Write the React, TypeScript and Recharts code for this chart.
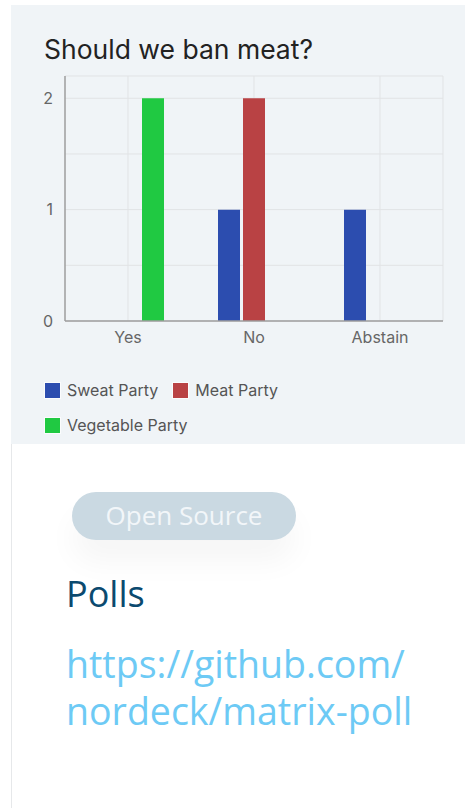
import React from "react"
import {
  BarChart,
  Bar,
  XAxis,
  YAxis,
  CartesianGrid,
  Legend,
} from "recharts"

const categories = ["Yes", "No", "Abstain"]
const sweatParty = [0, 1, 1]
const meatParty = [0, 2, 0]
const vegetableParty = [2, 0, 0]
const yTicks = [0, 0.5, 1, 1.5, 2, 2.2]

const series = [
  { key: "sweat", name: "Sweat Party", fill: "#2c4daf" },
  { key: "meat", name: "Meat Party", fill: "#b94244" },
  { key: "vegetable", name: "Vegetable Party", fill: "#20c942" },
]

const data = categories.map((c, i) => ({
  name: c,
  sweat: sweatParty[i],
  meat: meatParty[i],
  vegetable: vegetableParty[i],
}))

const chartFont = "Inter, 'Noto Sans', sans-serif"

function LegendContent(props: any) {
  // keep the series order, not alphabetical
  const order = series.map((s) => s.name)
  const items = [...(props.payload || [])].sort(
    (a: any, b: any) => order.indexOf(a.value) - order.indexOf(b.value)
  )
  return (
    <div
      style={{
        display: "flex",
        flexWrap: "wrap",
        width: 250,
        columnGap: 15,
        rowGap: 15,
        fontFamily: chartFont,
        fontSize: 16,
        color: "#555",
      }}
    >
      {items.map((it: any) => (
        <div key={it.value} style={{ display: "flex", alignItems: "center", height: 20 }}>
          <span
            style={{
              display: "inline-block",
              width: 15,
              height: 15,
              background: it.color,
              boxShadow: "0 0 0 1px rgba(255,255,255,0.7)",
              marginRight: 7,
            }}
          />
          <span>{it.value}</span>
        </div>
      ))}
    </div>
  )
}

// category centres from the axis scale, plus the right edge of the plot
const verticalLines = (props: any) => {
  const { xAxis, offset } = props
  const s = xAxis && xAxis.scale
  let f: ((v: string) => number) | null = null
  if (typeof s === "function") f = (v) => s(v)
  else if (s && typeof s.map === "function") f = (v) => s.map(v)
  let bw = 0
  if (s && typeof s.bandwidth === "function") bw = s.bandwidth()
  const pts = f ? categories.map((c) => (f as any)(c) + bw / 2).filter((p) => Number.isFinite(p)) : []
  return [...pts, offset.left + offset.width]
}

export default function App() {
  return (
    <div style={{ position: "absolute", left: 0, top: 0, width: 465, height: 808, background: "#fff", overflow: "hidden" }}>
      {/* left edge of the panel */}
      <div style={{ position: "absolute", left: 11, top: 5, width: 1, height: 803, background: "#e6e8ea" }} />

      {/* chart card */}
      <div style={{ position: "absolute", left: 11, top: 5, width: 454, height: 439, background: "#f0f4f7" }}>
        <div
          style={{
            position: "absolute",
            left: 33,
            top: 28,
            fontFamily: chartFont,
            fontSize: 26.5,
            color: "#222",
            whiteSpace: "nowrap",
          }}
        >
          Should we ban meat?
        </div>
        <div style={{ position: "absolute", left: 0, top: 0 }}>
          <BarChart
            width={454}
            height={439}
            data={data}
            margin={{ top: 71, right: 22, left: 0, bottom: 93 }}
            barSize={22}
            barGap={3}
          >
            <CartesianGrid
              stroke="#e1e3e5"
              strokeWidth={1}
              verticalCoordinatesGenerator={verticalLines}
            />
            <XAxis
              dataKey="name"
              tickLine={false}
              tickSize={6}
              tickMargin={5}
              height={30}
              axisLine={{ stroke: "#9e9e9e", strokeWidth: 1.5 }}
              tick={{ fill: "#666", fontSize: 16, fontFamily: chartFont }}
            />
            <YAxis
              width={54}
              domain={[0, 2.2]}
              ticks={yTicks}
              interval={0}
              tickLine={false}
              tickSize={6}
              tickMargin={6}
              axisLine={{ stroke: "#9e9e9e", strokeWidth: 1.5 }}
              tick={{ fill: "#666", fontSize: 16, fontFamily: chartFont }}
              tickFormatter={(v: number) => (Number.isInteger(v) ? String(v) : "")}
            />
            {series.map((s) => (
              <Bar
                key={s.key}
                dataKey={s.key}
                name={s.name}
                fill={s.fill}
                isAnimationActive={false}
              />
            ))}
            <Legend
              verticalAlign="middle"
              layout="horizontal"
              content={<LegendContent />}
              wrapperStyle={{ left: 34, top: 375, width: 260, height: 60 }}
            />
          </BarChart>
        </div>
      </div>

      {/* project info */}
      <div
        style={{
          position: "absolute",
          left: 72,
          top: 492,
          width: 224,
          height: 48,
          borderRadius: 24,
          background: "#cad9e2",
          color: "#f2f6f9",
          fontFamily: "'Open Sans', sans-serif",
          fontSize: 26,
          lineHeight: "47px",
          textAlign: "center",
          boxShadow: "0 22px 30px rgba(0,0,0,0.04)",
        }}
      >
        Open Source
      </div>
      <div
        style={{
          position: "absolute",
          left: 66,
          top: 570,
          fontFamily: "'Open Sans', sans-serif",
          fontSize: 36,
          lineHeight: "48px",
          color: "#0b4a6f",
        }}
      >
        Polls
      </div>
      <div
        style={{
          position: "absolute",
          left: 66,
          top: 640,
          width: 380,
          fontFamily: "'Open Sans', sans-serif",
          fontSize: 37.5,
          lineHeight: "47px",
          color: "#6dcaf5",
        }}
      >
        https://github.com/ nordeck/matrix-poll
      </div>
    </div>
  )
}
